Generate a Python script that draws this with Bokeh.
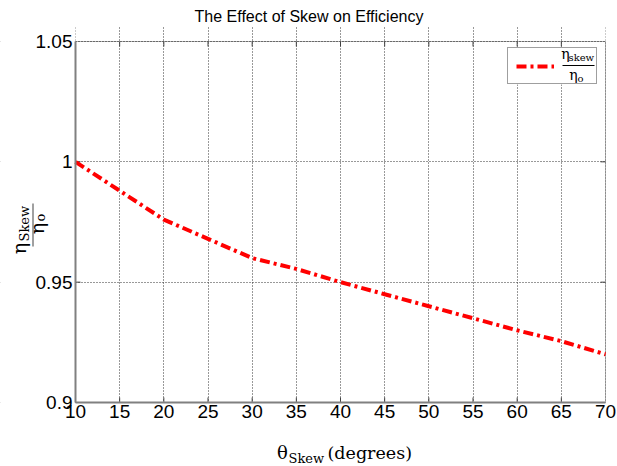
from math import pi
from bokeh.plotting import figure
from bokeh.models import (Label, Legend, LegendItem, FixedTicker, CustomJSTickFormatter,
                          Range1d, Arrow, BoxAnnotation)
from bokeh.embed import file_html
from bokeh.resources import INLINE

# ---- data ----
theta_skew = [10, 15, 20, 25, 30, 35, 40, 45, 50, 55, 60, 65, 70]
eff_ratio = [1.000, 0.988, 0.976, 0.968, 0.960, 0.9555, 0.950, 0.945, 0.940, 0.935, 0.930, 0.9255, 0.920]
x_ticks = [10, 15, 20, 25, 30, 35, 40, 45, 50, 55, 60, 65, 70]
y_ticks = [0.9, 0.95, 1.0, 1.05]
y_tick_labels = ["0.9", "0.95", "1", "1.05"]
title_text = "The Effect of Skew on Efficiency"

# ---- layout (canvas pixels) ----
W, H = 617, 466
TOP = 26                      # room for the title
X0, X1, Y0, Y1 = 10, 70, 0.9, 1.05
PX0, PX1 = 75, 605            # canvas x of X0 / X1
PY1, PY0 = 41, 402            # canvas y of Y1 / Y0
SX = (X1 - X0) / (PX1 - PX0)
SY = (Y1 - Y0) / (PY0 - PY1)
TICK = 5                      # inward tick length, px

def dx(px):  # canvas pixel -> data x
    return X0 + (px - PX0) * SX

def dy(py):  # canvas pixel -> data y
    return Y1 - (py - PY1) * SY

x_range = Range1d(dx(0), dx(W))
y_range = Range1d(dy(H), dy(TOP))

p = figure(width=W, height=H, x_range=x_range, y_range=y_range,
           output_backend="svg", toolbar_location=None,
           min_border_left=0, min_border_right=0, min_border_top=TOP, min_border_bottom=0)

p.title.text = title_text
p.title.align = "center"
p.title.offset = (PX0 + PX1) / 2 - W / 2
p.title.standoff = 2
p.title.vertical_align = "middle"
p.title.text_font = "Liberation Sans"
p.title.text_font_size = "16px"
p.title.text_font_style = "normal"
p.title.text_color = "#000000"

p.xaxis.ticker = FixedTicker(ticks=x_ticks)
p.yaxis.ticker = FixedTicker(ticks=y_ticks)
p.yaxis.formatter = CustomJSTickFormatter(
    args=dict(yt=y_ticks, yl=y_tick_labels),
    code="const i = yt.findIndex(t => Math.abs(t - tick) < 1e-9); return i >= 0 ? yl[i] : String(tick);")
p.xaxis.fixed_location = Y0
p.yaxis.fixed_location = X0
p.xaxis.bounds = (X0, X1)
p.yaxis.bounds = (Y0, Y1)

for ax in (p.xaxis[0], p.yaxis[0]):
    ax.major_label_text_font = "Liberation Sans"
    ax.major_label_text_font_size = "19px"
    ax.major_label_text_color = "#000000"
    ax.axis_line_color = "#808080"
    ax.axis_line_width = 2
    ax.major_tick_in = 0
    ax.major_tick_out = 0
    ax.major_tick_line_color = None
    ax.minor_tick_line_color = None
p.xaxis.major_label_standoff = 2
p.yaxis.major_label_standoff = 3

p.outline_line_color = None
p.grid.grid_line_color = "#333333"
p.grid.grid_line_dash = "1 2"
p.grid.grid_line_width = 1
p.xgrid.ticker = FixedTicker(ticks=x_ticks)
p.ygrid.ticker = FixedTicker(ticks=y_ticks)
p.background_fill_color = "white"
p.border_fill_color = "white"

# white masks so the grid stays inside the plotting box
XL, XR = dx(-20), dx(W + 20)
YB, YT = dy(H + 20), dy(TOP - 20)
for kw in (dict(left=XL, right=X0, bottom=YB, top=YT),
           dict(left=X1, right=XR, bottom=YB, top=YT),
           dict(left=XL, right=XR, bottom=YB, top=Y0)):
    p.add_layout(BoxAnnotation(fill_color="white", fill_alpha=1.0, line_color=None,
                               level="underlay", **kw))
# plot box outline
p.add_layout(BoxAnnotation(left=X0, right=X1, bottom=Y0, top=Y1, fill_alpha=0,
                           line_color="#000000", line_width=1, level="underlay"))

# inward ticks on all four sides (MATLAB style)
tx = x_ticks[1:-1]
ty = y_ticks[1:-1]
p.segment(x0=tx, y0=[Y0] * len(tx), x1=tx, y1=[Y0 + TICK * SY] * len(tx), line_color="#404040", line_width=1)
p.segment(x0=tx, y0=[Y1] * len(tx), x1=tx, y1=[Y1 - TICK * SY] * len(tx), line_color="#404040", line_width=1)
p.segment(x0=[X0] * len(ty), y0=ty, x1=[X0 + TICK * SX] * len(ty), y1=ty, line_color="#404040", line_width=1)
p.segment(x0=[X1] * len(ty), y0=ty, x1=[X1 - TICK * SX] * len(ty), y1=ty, line_color="#404040", line_width=1)

# legend box geometry (canvas px)
LG_L, LG_R, LG_T, LG_B = 507, 599, 47, 84
p.add_layout(BoxAnnotation(left=dx(LG_L), right=dx(LG_R), top=dy(LG_T), bottom=dy(LG_B),
                           fill_color="white", fill_alpha=1.0, line_color=None, level="underlay"))

r = p.line(theta_skew, eff_ratio, line_color="#ff0000", line_width=4, line_dash="10 4 3 4")

legend = Legend(items=[LegendItem(label=" ", renderers=[r])],
                location=(LG_L, H - LG_B), margin=0,
                padding=8, glyph_width=38, glyph_height=18,
                label_width=28, label_height=19, label_standoff=6,
                label_text_font_size="10px",
                border_line_color="#404040", border_line_width=1,
                background_fill_alpha=0.0)
p.add_layout(legend)

SERIF = "DejaVu Serif"

def lab(px, py, text, size, angle=0, align="center"):
    p.add_layout(Label(x=dx(px), y=dy(py), text=text, text_font=SERIF,
                       text_font_size=size, text_align=align, text_baseline="middle",
                       angle=angle, text_color="#000000", level="overlay"))

def bar(px0, py0, px1, py1, w=1.2, color="#000000"):
    p.add_layout(Arrow(x_start=dx(px0), y_start=dy(py0), x_end=dx(px1), y_end=dy(py1),
                       start=None, end=None, line_color=color, line_width=w, level="overlay"))

# legend fraction
lab(565, 53, "η", "14px")
lab(568, 57, "skew", "10px", align="left")
bar(562, 65, 594, 65, w=1)
lab(573, 74, "η", "14px")
lab(577, 78, "o", "10px", align="left")

# x axis label
lab(282, 452, "θ", "18px")
lab(288, 458, "Skew", "13px", align="left")
lab(327, 452, "(degrees)", "17.5px", align="left")

# y axis label (rotated fraction)
lab(18, 248, "η", "19px", angle=pi / 2)
lab(24, 241, "Skew", "13px", angle=pi / 2, align="left")
bar(32.5, 203, 32.5, 246, w=1.5, color="#808080")
lab(36, 228, "η", "19px", angle=pi / 2)
lab(40, 221, "o", "13px", angle=pi / 2, align="left")

open("out.html", "w").write(file_html(p, INLINE))
